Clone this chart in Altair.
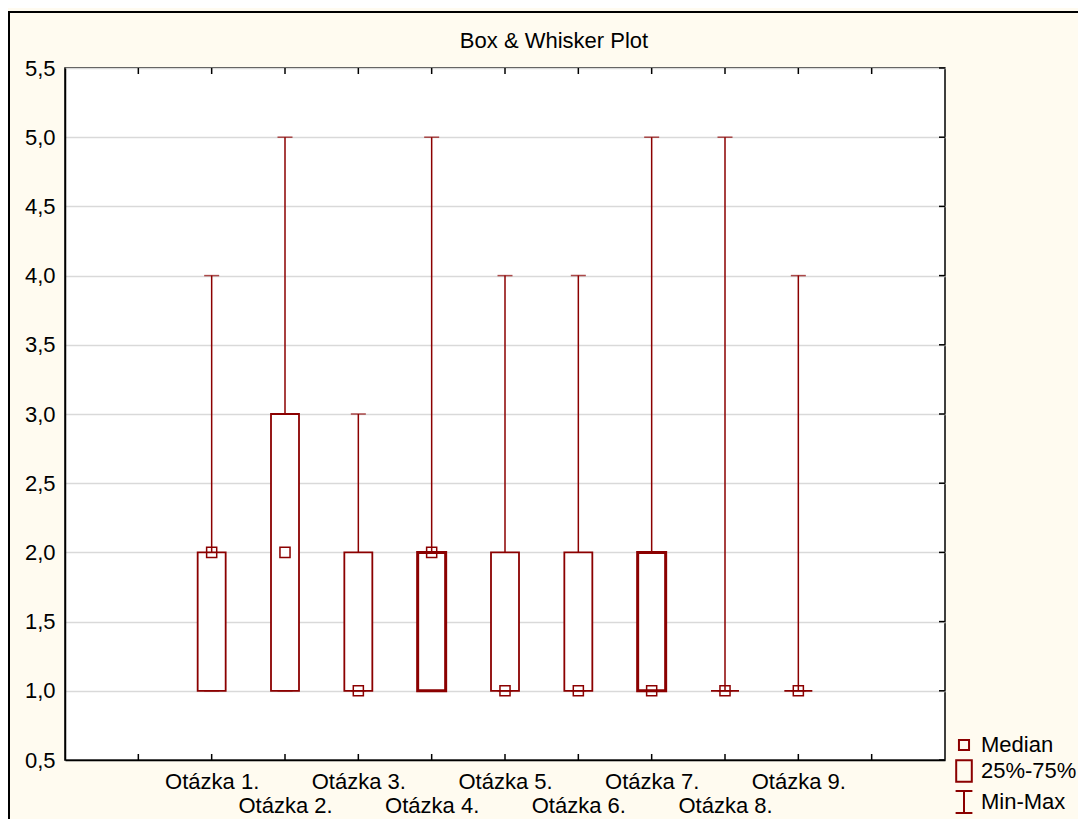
import altair as alt
import pandas as pd

# ---- data ----
questions = ["Otázka 1.", "Otázka 2.", "Otázka 3.", "Otázka 4.", "Otázka 5.",
             "Otázka 6.", "Otázka 7.", "Otázka 8.", "Otázka 9."]
mins    = [1, 1, 1, 1, 1, 1, 1, 1, 1]
q25     = [1, 1, 1, 1, 1, 1, 1, 1, 1]
medians = [2, 2, 1, 2, 1, 1, 1, 1, 1]
q75     = [2, 3, 2, 2, 2, 2, 2, 1, 1]
maxs    = [4, 5, 3, 5, 4, 4, 5, 5, 4]

slots = ["_l"] + questions + ["_r"]
legend_labels = ["Median", "25%-75%", "Min-Max"]
y_ticks = [0.5, 1.0, 1.5, 2.0, 2.5, 3.0, 3.5, 4.0, 4.5, 5.0, 5.5]
title_text = "Box & Whisker Plot"

df = pd.DataFrame({"q": questions, "mn": mins, "lo": q25, "med": medians,
                   "hi": q75, "mx": maxs, "lg": "Median"})
slot_df = pd.DataFrame({"q": slots})
ytick_df = pd.DataFrame({"v": y_ticks})
title_df = pd.DataFrame({"t": [title_text]})

W, H = 880, 692
RED = "#8B0000"
CREAM = "#FFFBF0"
FONT = "Liberation Sans"
FS = 22

xscale = alt.Scale(type="point", domain=slots, padding=1)
yscale = alt.Scale(domain=[0.5, 5.5], nice=False, zero=False)

label_expr = ("datum.value == '_l' || datum.value == '_r' ? '' : "
              "(indexof(" + str(questions) + ", datum.value) % 2 == 0 ? "
              "[datum.value, ''] : ['', datum.value])")

x_axis = alt.Axis(title=None, labelExpr=label_expr, ticks=False, grid=False,
                  domainColor="black", domainWidth=1.5, labelFont=FONT,
                  labelFontSize=FS, labelColor="black", labelPadding=11,
                  labelLineHeight=24, labelAngle=0, labelBaseline="top")
y_axis = alt.Axis(title=None, values=y_ticks, ticks=False, grid=True,
                  gridColor="#D9D9D9", gridWidth=1.5,
                  labelExpr="replace(format(datum.value, '.1f'), '.', ',')",
                  domainColor="black", domainWidth=1.5, labelFont=FONT,
                  labelFontSize=FS, labelColor="black", labelPadding=10)

# outer frame line (decoration)
frame = alt.Chart(title_df).mark_rect(
    fill="transparent", stroke="black", strokeWidth=2, clip=False
).encode(x=alt.value(-56), x2=alt.value(1100), y=alt.value(-56), y2=alt.value(900))

title = alt.Chart(title_df).mark_text(
    font=FONT, fontSize=FS, color="black", align="center", baseline="alphabetic"
).encode(text="t:N", x=alt.value(489), y=alt.value(-20))

base = alt.Chart(df)

whisker = base.mark_rule(color=RED, strokeWidth=1.5).encode(
    x=alt.X("q:N", scale=xscale, axis=x_axis, sort=slots),
    y=alt.Y("mn:Q", scale=yscale, axis=y_axis),
    y2="mx:Q")

thick = "datum.q == 'Otázka 4.' || datum.q == 'Otázka 7.'"
box = base.mark_bar(fill="white", stroke=RED, size=28).encode(
    x=alt.X("q:N", scale=xscale, sort=slots),
    y=alt.Y("lo:Q", scale=yscale),
    y2="hi:Q",
    strokeWidth=alt.condition(thick, alt.value(3), alt.value(1.8)))

cap_top = base.mark_tick(color=RED, thickness=1.5, size=15, orient="horizontal").encode(
    x=alt.X("q:N", scale=xscale, sort=slots),
    y=alt.Y("mx:Q", scale=yscale))
cap_bot = base.mark_tick(color=RED, thickness=1.5, size=15, orient="horizontal").encode(
    x=alt.X("q:N", scale=xscale, sort=slots),
    y=alt.Y("mn:Q", scale=yscale))

shape_scale = alt.Scale(
    domain=legend_labels,
    range=["M-0.42,-0.42H0.42V0.42H-0.42Z",
           "M-0.65,-0.9H0.65V0.9H-0.65Z",
           "M-0.7,-0.92H0.7M0,-0.92V0.92M-0.7,0.92H0.7"])

median = base.mark_point(filled=False, color=RED, strokeWidth=1.5, size=576, opacity=1).encode(
    x=alt.X("q:N", scale=xscale, sort=slots),
    y=alt.Y("med:Q", scale=yscale),
    shape=alt.Shape("lg:N", scale=shape_scale,
                    legend=alt.Legend(title=None, orient="none", legendX=886, legendY=664,
                                      labelFont=FONT, labelFontSize=FS, labelColor="black",
                                      symbolSize=576, symbolStrokeColor=RED,
                                      symbolFillColor="transparent", symbolStrokeWidth=2,
                                      symbolOpacity=1, labelOffset=4, rowPadding=0,
                                      padding=0)))

# inward tick marks (decoration, positioned by the scales)
tick_bottom = alt.Chart(slot_df).mark_rule(color="black", strokeWidth=1.5).encode(
    x=alt.X("q:N", scale=xscale, sort=slots), y=alt.value(H - 6), y2=alt.value(H))
tick_top = alt.Chart(slot_df).mark_rule(color="black", strokeWidth=1.5).encode(
    x=alt.X("q:N", scale=xscale, sort=slots), y=alt.value(0), y2=alt.value(6))
tick_right = alt.Chart(ytick_df).mark_rule(color="black", strokeWidth=1.5).encode(
    y=alt.Y("v:Q", scale=yscale), x=alt.value(W - 6), x2=alt.value(W))

chart = alt.layer(
    frame, title, whisker, box, cap_top, cap_bot, median,
    tick_bottom, tick_top, tick_right
).properties(
    width=W, height=H,
    padding={"left": 57, "top": 60, "right": 133, "bottom": 59},
    autosize=alt.AutoSizeParams(type="none"),
    background=CREAM,
).configure_view(
    stroke="black", strokeWidth=1.5, fill="white"
)

chart.save("out.html", embed_options={"renderer": "svg", "actions": False})
